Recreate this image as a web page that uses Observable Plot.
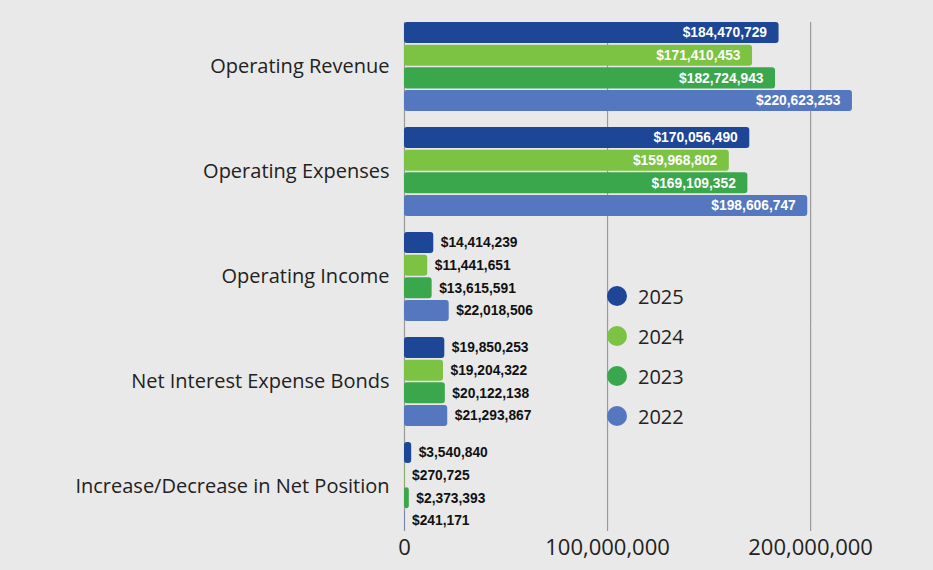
<!DOCTYPE html>
<html>
<head>
<meta charset="utf-8">
<script src="https://cdn.jsdelivr.net/npm/d3@7"></script>
<script src="https://cdn.jsdelivr.net/npm/@observablehq/plot@0.6"></script>
<style>
  html, body { margin: 0; padding: 0; background: #e8e9e8; }
  #wrap { position: relative; width: 933px; height: 570px; overflow: hidden; }
  #legend { position: absolute; left: 607px; top: 276px; font-family: "Open Sans", sans-serif; font-size: 20px; color: #222; }
  .li { display: flex; align-items: center; height: 40px; }
  .sw { width: 20px; height: 20px; border-radius: 50%; margin-right: 11px; }
</style>
</head>
<body>
<div id="wrap"></div>
<script>
const categories = ["Operating Revenue", "Operating Expenses", "Operating Income", "Net Interest Expense Bonds", "Increase/Decrease in Net Position"];
const years = ["2025", "2024", "2023", "2022"];
const colors = ["#1d4697", "#7cc243", "#3ba74c", "#5577bf"];
const values2025 = [184470729, 170056490, 14414239, 19850253, 3540840];
const values2024 = [171410453, 159968802, 11441651, 19204322, 270725];
const values2023 = [182724943, 169109352, 13615591, 20122138, 2373393];
const values2022 = [220623253, 198606747, 22018506, 21293867, 241171];
const xTicks = [0, 100000000, 200000000];

const series = [values2025, values2024, values2023, values2022];
const data = [];
categories.forEach((c, i) => years.forEach((y, j) => data.push({category: c, year: y, value: series[j][i]})));

const money = d3.format(",");
const big = data.filter(d => d.value > 100000000);
const small = data.filter(d => d.value <= 100000000);

const gridFirst = xTicks.map(t => ({tick: t, category: categories[0]}));
const gridRest = categories.slice(1).flatMap(c => xTicks.map(t => ({tick: t, category: c})));

const labelFont = "'Liberation Sans', Arial, sans-serif";

const chart = Plot.plot({
  width: 933,
  height: 570,
  marginLeft: 404,
  marginRight: 62,
  marginTop: 22,
  marginBottom: 39,
  style: {background: "transparent", fontFamily: "'Open Sans', sans-serif", color: "#222"},
  x: {domain: [0, 230000000], ticks: xTicks, tickFormat: money, tickSize: 0, tickPadding: 8, label: null},
  y: {domain: years, paddingInner: 0.07, paddingOuter: 0, round: false, axis: null, label: null},
  fy: {domain: categories, paddingInner: 0.152, paddingOuter: 0, round: false, tickSize: 0, tickPadding: 15, label: null},
  color: {domain: years, range: colors},
  marks: [
    Plot.ruleX(gridFirst, {x: "tick", fy: "category", stroke: "#9a9a9a", strokeWidth: 1.2}),
    Plot.ruleX(gridRest, {x: "tick", fy: "category", stroke: "#9a9a9a", strokeWidth: 1.2, insetTop: -17}),
    Plot.barX(data, {x: "value", y: "year", fy: "category", fill: "year", rx: 3}),
    Plot.text(big, {x: "value", y: "year", fy: "category", text: d => "$" + money(d.value), textAnchor: "end", dx: -12, fill: "white", fontWeight: "bold", fontSize: 13.8, fontFamily: labelFont}),
    Plot.text(small, {x: "value", y: "year", fy: "category", text: d => "$" + money(d.value), textAnchor: "start", dx: 7, fill: "#111", fontWeight: "bold", fontSize: 13.8, fontFamily: labelFont})
  ]
});

const wrap = document.getElementById("wrap");
wrap.appendChild(chart);
d3.select(chart).selectAll("g[aria-label='fy-axis tick label'] text, g[aria-label='fy-axis'] text").style("font-size", "20px");
d3.select(chart).selectAll("g[aria-label='x-axis tick label'] text, g[aria-label='x-axis'] text").style("font-size", "22px");

const legend = document.createElement("div");
legend.id = "legend";
years.forEach((y, i) => {
  const row = document.createElement("div");
  row.className = "li";
  row.innerHTML = `<span class="sw" style="background:${colors[i]}"></span><span>${y}</span>`;
  legend.appendChild(row);
});
wrap.appendChild(legend);
</script>
</body>
</html>
